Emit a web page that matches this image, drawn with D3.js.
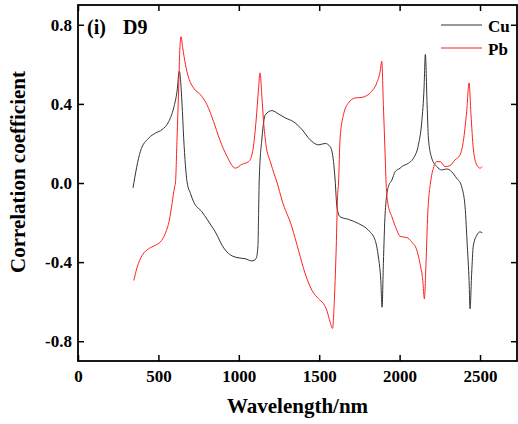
<html lang="en">
<head>
<meta charset="utf-8">
<script src="https://d3js.org/d3.v7.min.js"></script>
<style>
  body { margin: 0; background: #fff; }
  text { font-family: "Liberation Serif", "Times New Roman", serif; font-weight: bold; }
</style>
</head>
<body>
<script>
// wavelength (nm) and correlation values
var cuWave = [342, 388, 440, 481, 523, 564, 595, 616, 630, 647, 657, 668, 678, 699, 719, 771, 834, 854, 885, 896, 937, 989, 1040, 1082, 1107, 1119, 1123, 1127, 1144, 1165, 1206, 1247, 1289, 1340, 1393, 1444, 1455, 1496, 1537, 1568, 1589, 1599, 1610, 1630, 1682, 1744, 1806, 1848, 1868, 1883, 1891, 1899, 1910, 1930, 1952, 1972, 2003, 2014, 2055, 2086, 2117, 2138, 2152, 2160, 2171, 2179, 2200, 2231, 2262, 2293, 2324, 2355, 2365, 2386, 2407, 2421, 2432, 2438, 2448, 2458, 2480, 2500, 2514];
var cuCorr = [-0.025, 0.16, 0.227, 0.252, 0.27, 0.31, 0.38, 0.464, 0.565, 0.40, 0.23, 0.09, 0.007, -0.052, -0.095, -0.146, -0.222, -0.247, -0.298, -0.315, -0.357, -0.377, -0.383, -0.394, -0.383, -0.32, -0.154, 0.015, 0.227, 0.345, 0.366, 0.349, 0.329, 0.31, 0.27, 0.218, 0.21, 0.193, 0.2, 0.184, 0.108, 0.015, -0.12, -0.171, -0.184, -0.205, -0.239, -0.29, -0.374, -0.493, -0.628, -0.408, -0.154, -0.019, 0.015, 0.057, 0.075, 0.083, 0.1, 0.125, 0.193, 0.311, 0.48, 0.65, 0.396, 0.227, 0.125, 0.083, 0.066, 0.071, 0.057, 0.024, 0.015, -0.019, -0.12, -0.32, -0.493, -0.636, -0.458, -0.32, -0.264, -0.247, -0.252];

var pbWave = [347, 368, 399, 440, 481, 512, 543, 568, 585, 601, 606, 616, 626, 632, 641, 651, 668, 688, 719, 761, 802, 843, 881, 927, 978, 1020, 1061, 1086, 1107, 1123, 1132, 1144, 1154, 1169, 1196, 1222, 1239, 1268, 1330, 1371, 1413, 1455, 1496, 1527, 1548, 1568, 1583, 1595, 1606, 1614, 1620, 1630, 1651, 1682, 1724, 1765, 1796, 1827, 1858, 1879, 1889, 1899, 1910, 1916, 1927, 1952, 1983, 2003, 2045, 2075, 2107, 2127, 2144, 2154, 2164, 2175, 2192, 2210, 2231, 2252, 2283, 2313, 2345, 2376, 2396, 2417, 2432, 2444, 2458, 2480, 2500, 2514];
var pbCorr = [-0.493, -0.425, -0.366, -0.332, -0.315, -0.298, -0.255, -0.188, -0.103, -0.019, 0.0, 0.227, 0.48, 0.65, 0.74, 0.684, 0.6, 0.532, 0.48, 0.447, 0.396, 0.311, 0.22, 0.134, 0.075, 0.095, 0.108, 0.159, 0.311, 0.48, 0.557, 0.43, 0.311, 0.193, 0.108, 0.041, 0.0, -0.086, -0.222, -0.34, -0.459, -0.543, -0.586, -0.611, -0.645, -0.704, -0.735, -0.577, -0.32, -0.07, 0.0, 0.227, 0.345, 0.405, 0.43, 0.433, 0.442, 0.464, 0.506, 0.565, 0.616, 0.396, 0.142, 0.0, -0.103, -0.171, -0.239, -0.27, -0.276, -0.298, -0.34, -0.408, -0.493, -0.586, -0.408, -0.154, 0.0, 0.075, 0.108, 0.108, 0.083, 0.088, 0.117, 0.142, 0.21, 0.362, 0.506, 0.345, 0.176, 0.091, 0.075, 0.083];

var xTicks = [0, 500, 1000, 1500, 2000, 2500];
var yTicks = [-0.8, -0.4, 0.0, 0.4, 0.8];

var width = 518, height = 424;
var plotL = 78, plotR = 517, plotT = 5, plotB = 361;

var svg = d3.select("body").append("svg")
    .attr("width", width)
    .attr("height", height);

var x = d3.scaleLinear().domain([0, 2730]).range([plotL, plotR]);
var y = d3.scaleLinear().domain([-0.9, 0.9]).range([plotB, plotT]);

var fmtY = function(d) { return d3.format(".1f")(d).replace("\u2212", "-"); };

// axes, ticks pointing inward
svg.append("g")
    .attr("transform", "translate(0," + plotB + ")")
    .call(d3.axisBottom(x).tickValues(xTicks).tickSizeInner(-6).tickSizeOuter(0).tickPadding(9).tickFormat(d3.format("d")));
svg.append("g")
    .attr("transform", "translate(0," + plotT + ")")
    .call(d3.axisTop(x).tickValues(xTicks).tickSizeInner(-6).tickSizeOuter(0).tickFormat(""));
svg.append("g")
    .attr("transform", "translate(" + plotL + ",0)")
    .call(d3.axisLeft(y).tickValues(yTicks).tickSizeInner(-6).tickSizeOuter(0).tickPadding(6).tickFormat(fmtY));
svg.append("g")
    .attr("transform", "translate(" + plotR + ",0)")
    .call(d3.axisRight(y).tickValues(yTicks).tickSizeInner(-6).tickSizeOuter(0).tickFormat(""));

svg.selectAll(".tick line").attr("stroke", "#000").attr("stroke-width", 1.5);
svg.selectAll(".domain").remove();
svg.selectAll(".tick text").attr("font-size", 17).attr("fill", "#000")
    .attr("font-family", "Liberation Serif").attr("font-weight", "bold");

svg.append("rect")
    .attr("x", plotL).attr("y", plotT)
    .attr("width", plotR - plotL).attr("height", plotB - plotT)
    .attr("fill", "none").attr("stroke", "#000").attr("stroke-width", 1.8);

var line = d3.line()
    .x(function(d) { return x(d[0]); })
    .y(function(d) { return y(d[1]); })
    .curve(d3.curveMonotoneX);

var cu = d3.zip(cuWave, cuCorr);
var pb = d3.zip(pbWave, pbCorr);

svg.append("path").datum(cu)
    .attr("d", line).attr("fill", "none")
    .attr("stroke", "#333").attr("stroke-width", 1);
svg.append("path").datum(pb)
    .attr("d", line).attr("fill", "none")
    .attr("stroke", "#ff2020").attr("stroke-width", 1);

// legend
svg.append("line").attr("x1", 441).attr("x2", 482).attr("y1", 25).attr("y2", 25)
    .attr("stroke", "#333").attr("stroke-width", 1);
svg.append("text").attr("x", 488).attr("y", 32).attr("font-size", 17).text("Cu");
svg.append("line").attr("x1", 441).attr("x2", 482).attr("y1", 48).attr("y2", 48)
    .attr("stroke", "#ff2020").attr("stroke-width", 1);
svg.append("text").attr("x", 488).attr("y", 55).attr("font-size", 17).text("Pb");

// panel label
svg.append("text").attr("x", 87).attr("y", 34).attr("font-size", 20).text("(i)");
svg.append("text").attr("x", 123).attr("y", 34).attr("font-size", 20).text("D9");

// axis titles
svg.append("text")
    .attr("x", (plotL + plotR) / 2).attr("y", 413)
    .attr("text-anchor", "middle").attr("font-size", 21)
    .text("Wavelength/nm");
svg.append("text")
    .attr("transform", "translate(25," + 172 + ") rotate(-90)")
    .attr("text-anchor", "middle").attr("font-size", 21)
    .text("Correlation coefficient");
</script>
</body>
</html>
